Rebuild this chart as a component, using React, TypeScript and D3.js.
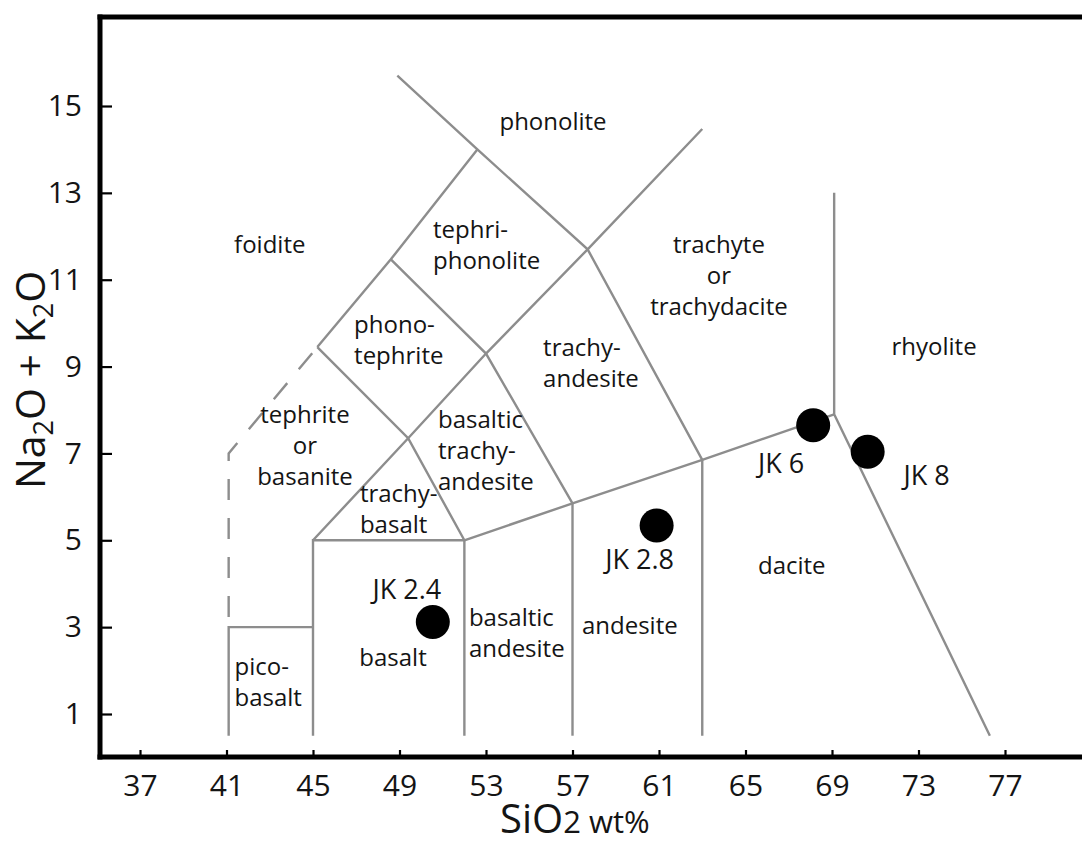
import React, { useEffect, useRef } from "react";
import * as d3 from "d3";

// axis ticks
const SIO2_TICKS = [37, 41, 45, 49, 53, 57, 61, 65, 69, 73, 77];
const ALKALI_TICKS = [1, 3, 5, 7, 9, 11, 13, 15];

// TAS field boundaries as [SiO2, Na2O+K2O] vertices
const PICOBASALT_EDGE = [[41.1, 0.5], [41.1, 3], [45, 3]];
const BASALT_EDGE = [[45, 0.5], [45, 5], [52, 5], [52, 0.5]];
const SUBALKALINE_EDGE = [[52, 5], [57, 5.85], [63, 6.85], [69.1, 7.9]];
const ANDESITE_EDGE = [[57, 0.5], [57, 5.85]];
const DACITE_EDGE = [[63, 0.5], [63, 6.85]];
const RHYOLITE_EDGE = [[69.1, 13], [69.1, 7.9], [76.3, 0.5]];
const TRACHYBASALT_EDGE = [[45.2, 9.45], [49.4, 7.35], [52, 5]];
const TEPHRITE_EDGE = [[45, 5], [49.4, 7.35], [53, 9.3], [57.7, 11.7], [63, 14.47]];
const FOIDITE_EDGE = [[45.2, 9.45], [48.6, 11.47], [52.6, 14.0]];
const PHONOLITE_EDGE = [[48.9, 15.7], [52.6, 14.0], [57.7, 11.7], [63, 6.85]];
const PHONOTEPHRITE_EDGE = [[48.6, 11.47], [53, 9.3], [57, 5.85]];
const BOUNDARIES = [
  PICOBASALT_EDGE, BASALT_EDGE, SUBALKALINE_EDGE, ANDESITE_EDGE, DACITE_EDGE,
  RHYOLITE_EDGE, TRACHYBASALT_EDGE, TEPHRITE_EDGE, FOIDITE_EDGE, PHONOLITE_EDGE,
  PHONOTEPHRITE_EDGE,
];
// dashed foidite / tephrite limit
const FOIDITE_LIMIT = [[45.2, 9.45], [41.1, 7], [41.1, 3]];

// field names, block centre in data units
const FIELD_LINES = [
  ["phonolite"], ["foidite"], ["tephri-", "phonolite"], ["phono-", "tephrite"],
  ["tephrite", "or", "basanite"], ["trachy-", "basalt"], ["basaltic", "trachy-", "andesite"],
  ["trachy-", "andesite"], ["trachyte", "or", "trachydacite"], ["rhyolite"],
  ["basaltic", "andesite"], ["andesite"], ["dacite"], ["basalt"], ["pico-", "basalt"],
];
const FIELD_SIO2 = [56.1, 43.0, 50.55, 46.9, 44.63, 47.17, 50.78, 55.64, 63.77, 73.72, 52.21, 59.65, 67.14, 48.7, 41.37];
const FIELD_ALKALI = [14.61, 11.78, 11.78, 9.59, 7.15, 5.69, 7.04, 9.06, 11.07, 9.43, 2.83, 3.01, 4.39, 2.28, 1.71];
const FIELD_ALIGN = ["middle", "middle", "start", "start", "middle", "start", "start", "start", "middle", "middle", "start", "middle", "middle", "middle", "start"];

// samples
const SAMPLE_NAMES = ["JK 2.4", "JK 2.8", "JK 6", "JK 8"];
const SAMPLE_SIO2 = [50.54, 60.89, 68.13, 70.65];
const SAMPLE_ALKALI = [3.12, 5.34, 7.65, 7.04];
// label offset from the dot, px
const SAMPLE_LABEL_DX = [-26, -17, -32, 59];
const SAMPLE_LABEL_DY = [-33, 34, 38, 24];

export default function App() {
  const svgRef = useRef<SVGSVGElement>(null);

  useEffect(() => {
    const svg = d3.select(svgRef.current);
    svg.selectAll("*").remove();

    const font = "'Open Sans', sans-serif";
    const ink = "#141414";
    const x = d3.scaleLinear().domain([37, 77]).range([140, 1005]);
    const y = d3.scaleLinear().domain([1, 15]).range([714, 106]);
    const line = d3.line<number[]>().x(d => x(d[0])).y(d => y(d[1]));

    // boundaries
    const fields = svg.append("g")
      .attr("fill", "none")
      .attr("stroke", "#8d8d8d")
      .attr("stroke-width", 2.4)
      .attr("stroke-linejoin", "miter");
    fields.selectAll("path.edge")
      .data(BOUNDARIES)
      .join("path")
        .attr("class", "edge")
        .attr("d", d => line(d));
    fields.append("path")
      .attr("d", line(FOIDITE_LIMIT))
      .attr("stroke-dasharray", "21 18")
      .attr("stroke-dashoffset", -8);

    // frame
    const frame = svg.append("g").attr("stroke", "#000").attr("stroke-width", 5);
    frame.append("line").attr("x1", 100).attr("x2", 100).attr("y1", 14.5).attr("y2", 759.5);
    frame.append("line").attr("x1", 97.5).attr("x2", 1082).attr("y1", 17).attr("y2", 17);
    frame.append("line").attr("x1", 97.5).attr("x2", 1082).attr("y1", 757).attr("y2", 757);

    // axes
    const xAxis = d3.axisBottom(x).tickValues(SIO2_TICKS).tickSizeInner(-7).tickSizeOuter(0).tickPadding(18);
    svg.append("g")
      .attr("transform", "translate(0,757)")
      .call(xAxis)
      .call(g => g.select(".domain").remove())
      .call(g => g.selectAll(".tick line").attr("stroke", "#000").attr("stroke-width", 2.2))
      .call(g => g.selectAll(".tick text").attr("font-size", 30).attr("font-family", font).attr("fill", ink));

    const yAxis = d3.axisLeft(y).tickValues(ALKALI_TICKS).tickSizeInner(-12).tickSizeOuter(0).tickPadding(18);
    svg.append("g")
      .attr("transform", "translate(100,0)")
      .call(yAxis)
      .call(g => g.select(".domain").remove())
      .call(g => g.selectAll(".tick line").attr("stroke", "#000").attr("stroke-width", 2.2))
      .call(g => g.selectAll(".tick text").attr("font-size", 30).attr("font-family", font).attr("fill", ink));

    // field names
    const lh = 31;
    const names = svg.append("g").attr("font-family", font).attr("font-size", 24).attr("fill", ink);
    FIELD_LINES.forEach((lines, i) => {
      const top = y(FIELD_ALKALI[i]) - ((lines.length - 1) * lh) / 2;
      const t = names.append("text")
        .attr("text-anchor", FIELD_ALIGN[i])
        .attr("x", x(FIELD_SIO2[i]));
      lines.forEach((s, j) => {
        t.append("tspan")
          .attr("x", x(FIELD_SIO2[i]))
          .attr("y", top + j * lh)
          .attr("dy", "0.3em")
          .text(s);
      });
    });

    // samples
    svg.append("g")
      .selectAll("circle")
      .data(SAMPLE_NAMES)
      .join("circle")
        .attr("cx", (d, i) => x(SAMPLE_SIO2[i]))
        .attr("cy", (d, i) => y(SAMPLE_ALKALI[i]))
        .attr("r", 17)
        .attr("fill", "#000");
    svg.append("g")
      .selectAll("text")
      .data(SAMPLE_NAMES)
      .join("text")
        .attr("x", (d, i) => x(SAMPLE_SIO2[i]) + SAMPLE_LABEL_DX[i])
        .attr("y", (d, i) => y(SAMPLE_ALKALI[i]) + SAMPLE_LABEL_DY[i])
        .attr("dy", "0.36em")
        .attr("text-anchor", "middle")
        .attr("font-family", font)
        .attr("font-size", 27)
        .attr("fill", ink)
        .text(d => d);

    // axis titles
    const xt = svg.append("text")
      .attr("x", 500)
      .attr("y", 833)
      .attr("font-family", font)
      .attr("fill", ink);
    xt.append("tspan").attr("font-size", 40).text("SiO");
    xt.append("tspan").attr("font-size", 31).text("2 wt%");

    const yt = svg.append("text")
      .attr("transform", "translate(45,380) rotate(-90)")
      .attr("text-anchor", "middle")
      .attr("font-family", font)
      .attr("font-size", 41)
      .attr("fill", ink);
    yt.append("tspan").text("Na");
    yt.append("tspan").attr("font-size", 27).attr("dy", 8).text("2");
    yt.append("tspan").attr("dy", -8).text("O + K");
    yt.append("tspan").attr("font-size", 27).attr("dy", 8).text("2");
    yt.append("tspan").attr("dy", -8).text("O");
  }, []);

  return (
    <svg
      ref={svgRef}
      width={1082}
      height={844}
      style={{ position: "absolute", left: 0, top: 0, background: "#fff" }}
    />
  );
}
